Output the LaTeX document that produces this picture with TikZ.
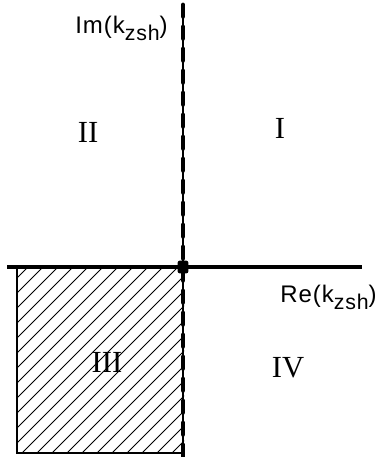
\documentclass[tikz,border=0pt]{standalone}
\usepackage{fontspec}
\setmainfont{Liberation Serif}
\setsansfont{Liberation Sans}
\newcommand{\zsub}[1]{\raisebox{-0.32em}{\fontsize{16}{17}\selectfont #1}}
\begin{document}
\begin{tikzpicture}[x=0.75pt,y=-0.75pt,
  axislbl/.style={font=\sffamily\fontsize{18}{20}\selectfont\addfontfeatures{LetterSpace=4}, inner sep=0pt},
  quad/.style={font=\fontsize{23}{24}\selectfont, inner sep=0pt},
  hatch/.style={line width=0.55pt},
  frame/.style={line width=0.8pt}]
\useasboundingbox (0,0) rectangle (375,457);
% hatched square
\begin{scope}
\clip (17,267) rectangle (184,453);
\foreach \i in {-190,-175,...,200} {
  \draw[hatch] (\i+17,453) -- (\i+17+200,253);
}
\end{scope}
\draw[frame] (184,267) -- (17,267) -- (17,453) -- (184,453);
% horizontal axis
\coordinate (hl) at (7,267);
\coordinate (hr) at (362,267);
\draw[line width=3.6pt] (hl) -- (hr);
% vertical axis
\coordinate (vt) at (183,5);
\coordinate (vb) at (183,457);
\draw[line width=0.8pt] (vt) -- (vb);
\draw[line width=3.6pt, dash pattern=on 8.5 off 8, line cap=round] (vt) -- (vb);
% origin dot
\node[fill=black, minimum width=8pt, minimum height=9.5pt, inner sep=0pt, rounded corners=1.5pt] (o) at (183,267) {};
% labels
\node[axislbl, anchor=base west] (im) at (75,33) {Im(k\zsub{zsh})};
\node[axislbl, anchor=base west] (re) at (280,302) {Re(k\zsub{zsh})};
\node[quad] (q1) at (280,128) {I};
\node[quad] (q2) at (88,132) {II};
\node[quad] (q3) at (107,362) {III};
\node[quad] (q4) at (288,368) {IV};
\end{tikzpicture}
\end{document}
